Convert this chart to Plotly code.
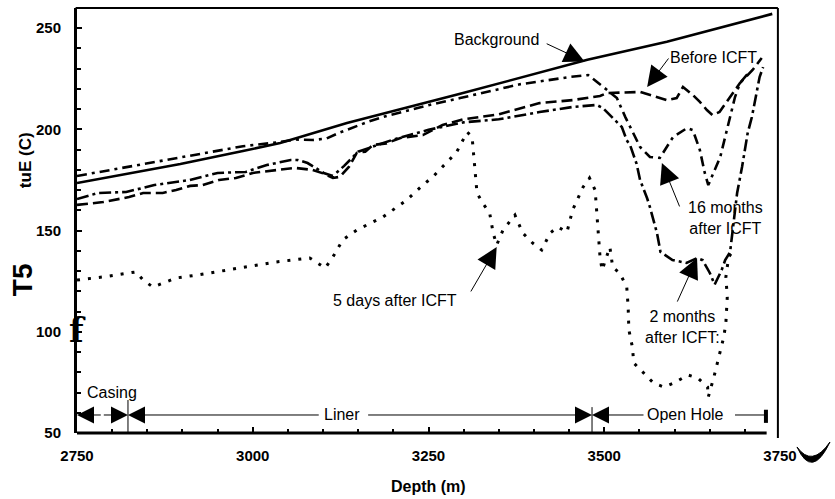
import plotly.graph_objects as go

# ---------------- data (depth in m, temperature in C) ----------------
bg_depth = [2750, 2897, 2986, 3039, 3134, 3295, 3476, 3589, 3739]
bg_temp = [173.5, 182.9, 189.3, 193.3, 203.2, 217.6, 234.4, 243.3, 257.1]

m16_depth = [2750, 2896, 2986, 3039, 3060, 3086, 3105, 3124, 3166, 3189,
             3250, 3295, 3380, 3451, 3477, 3504, 3518, 3530, 3537, 3551,
             3565, 3579, 3598, 3618, 3626, 3636, 3643, 3648, 3665, 3672,
             3679, 3686, 3693, 3705]
m16_temp = [177.0, 186.1, 191.7, 193.8, 195.0, 194.8, 195.5, 198.5, 204.0, 206.5,
            212.0, 215.5, 222.3, 225.9, 226.9, 219.5, 215.5, 206.1, 201.2, 191.3,
            186.4, 185.9, 196.3, 200.7, 199.7, 189.8, 178.5, 172.5, 186.4, 196.3,
            204.7, 216.0, 222.9, 227.9]

before_depth = [2750, 2787, 2824, 2844, 2872, 2891, 2911, 2929, 2952, 2976,
                3000, 3033, 3060, 3085, 3100, 3114, 3124, 3137, 3148, 3160,
                3171, 3190, 3210, 3242, 3270, 3300, 3350, 3408, 3455, 3494,
                3504, 3551, 3565, 3579, 3589, 3603, 3612, 3626, 3636, 3646,
                3654, 3664, 3683, 3693, 3711, 3724]
before_temp = [162.7, 164.1, 166.6, 168.6, 168.6, 170.1, 172.1, 172.5, 175.0, 176.0,
               178.5, 180.0, 181.0, 180.0, 178.3, 176.0, 176.6, 181.6, 188.4, 189.0,
               192.3, 193.1, 195.8, 197.2, 202.2, 205.0, 207.5, 213.0, 214.5, 216.5,
               218.0, 218.5, 217.0, 215.5, 214.5, 215.5, 221.0, 217.0, 213.6, 209.6,
               207.1, 208.6, 218.0, 222.9, 229.4, 235.3]

m2_depth = [2750, 2780, 2820, 2860, 2910, 2950, 2990, 3020, 3054, 3064,
            3078, 3093, 3101, 3114, 3130, 3150, 3200, 3250, 3300, 3350,
            3408, 3455, 3489, 3498, 3511, 3525, 3532, 3537, 3546, 3551,
            3561, 3565, 3575, 3580, 3597, 3617, 3632, 3640, 3650, 3657,
            3667, 3672, 3679, 3689, 3696, 3700, 3704, 3710, 3718, 3721,
            3726]
m2_temp = [165.6, 168.6, 169.1, 172.5, 175.0, 178.5, 179.0, 182.4, 184.9, 184.9,
           183.4, 180.4, 178.5, 177.0, 182.0, 189.0, 195.0, 199.8, 203.5, 205.0,
           208.6, 211.1, 212.1, 210.6, 206.1, 201.2, 194.7, 192.0, 183.0, 175.0,
           166.0, 161.6, 148.8, 139.5, 135.5, 134.0, 136.4, 135.4, 129.2, 123.3,
           130.5, 135.4, 139.4, 168.6, 181.4, 189.8, 198.2, 206.1, 219.5, 225.9,
           230.8]

d5_depth = [2750, 2787, 2834, 2844, 2858, 2872, 2891, 2920, 2948, 2977,
            3005, 3033, 3081, 3103, 3114, 3128, 3148, 3185, 3219, 3242,
            3256, 3270, 3290, 3305, 3312, 3319, 3327, 3337, 3342, 3347,
            3356, 3373, 3384, 3398, 3411, 3423, 3434, 3447, 3455, 3470,
            3479, 3487, 3490, 3494, 3497, 3508, 3512, 3522, 3532, 3534,
            3535, 3540, 3542, 3552, 3570, 3585, 3599, 3619, 3633, 3647,
            3648, 3656, 3661, 3670, 3673, 3675, 3673, 3677, 3682]
d5_temp = [125.6, 127.1, 129.6, 125.6, 122.1, 124.0, 126.6, 128.0, 129.6, 131.5,
           133.0, 134.5, 136.5, 131.5, 137.0, 145.4, 150.3, 156.7, 165.1, 172.5,
           176.5, 181.4, 188.8, 198.7, 196.3, 168.6, 163.6, 158.7, 148.8, 142.9,
           150.3, 157.7, 148.8, 143.9, 140.4, 148.8, 151.8, 149.3, 160.2, 171.6,
           176.0, 170.1, 153.8, 137.0, 130.5, 141.9, 132.0, 129.0, 122.1, 112.3,
           101.0, 92.5, 84.6, 81.1, 74.7, 72.7, 74.7, 78.7, 77.2, 72.7,
           67.8, 77.7, 84.6, 97.4, 104.4, 117.2, 127.1, 137.0, 139.4]

x_ticks = [2750, 3000, 3250, 3500, 3750]
y_ticks = [50, 100, 150, 200, 250]

# well completion intervals (m)
casing_top, liner_top, openhole_top, openhole_end = 2750, 2822.5, 3482.6, 3730
interval_row_T = 58.9

FONT = "Liberation Sans, Arial, Helvetica, sans-serif"

fig = go.Figure()
fig.add_trace(go.Scatter(x=bg_depth, y=bg_temp, mode="lines",
                         line=dict(color="black", width=2.6), name="Background"))
fig.add_trace(go.Scatter(x=m16_depth, y=m16_temp, mode="lines",
                         line=dict(color="black", width=2.6, dash="10px,5px,3px,5px"),
                         name="16 months after ICFT"))
fig.add_trace(go.Scatter(x=before_depth, y=before_temp, mode="lines",
                         line=dict(color="black", width=2.6, dash="11px,5px"),
                         name="Before ICFT"))
fig.add_trace(go.Scatter(x=m2_depth, y=m2_temp, mode="lines",
                         line=dict(color="black", width=2.6, dash="12px,4px,3px,4px"),
                         name="2 months after ICFT"))
fig.add_trace(go.Scatter(x=d5_depth, y=d5_temp, mode="lines",
                         line=dict(color="black", width=3, dash="3px,8px"),
                         name="5 days after ICFT"))

annots = []


def label(text, x, y, size=16, **kw):
    d = dict(text=text, x=x, y=y, xref="x", yref="y", showarrow=False,
             font=dict(family=FONT, size=size, color="black"),
             xanchor="center", yanchor="middle")
    d.update(kw)
    annots.append(d)


def arrow(tip_x, tip_y, tail_x, tail_y, size=4.1, head=2):
    annots.append(dict(text="", x=tip_x, y=tip_y, ax=tail_x, ay=tail_y,
                       xref="x", yref="y", axref="x", ayref="y",
                       showarrow=True, arrowhead=head, arrowsize=size,
                       arrowwidth=1, arrowcolor="black"))


# curve labels
label("Background", 3347, 244.2)
arrow(3472, 233.6, 3416, 242.7)
label("Before ICFT", 3656, 235.3)
arrow(3561, 221.0, 3593, 235.8)
label("16 months<br>after ICFT", 3672, 156.2)
arrow(3582, 183.4, 3608, 161.2)
label("5 days after ICFT", 3202, 115.7)
arrow(3347, 141.9, 3309, 119.2)
label("2 months<br>after ICFT:", 3611, 102.4)
arrow(3632, 136.5, 3603, 114.2)

# completion intervals
label("Casing", 2800, 69.8)
arrow(casing_top, interval_row_T, 2786, interval_row_T, size=3.4)
arrow(liner_top, interval_row_T, 2786, interval_row_T, size=3.4)
label("Liner", 3127, interval_row_T)
arrow(liner_top, interval_row_T, 3096, interval_row_T, size=3.4)
arrow(openhole_top, interval_row_T, 3162, interval_row_T, size=3.4)
label("Open Hole", 3615, interval_row_T)
arrow(openhole_top, interval_row_T, 3558, interval_row_T, size=3.4)

# axis titles
annots.append(dict(text="<b>Depth (m)</b>", x=0.5, y=-0.127, xref="paper", yref="paper",
                   showarrow=False, font=dict(family=FONT, size=16, color="black"),
                   xanchor="center", yanchor="middle"))
annots.append(dict(text="<b>tuE (C)</b>", x=-0.074, y=0.642, xref="paper", yref="paper",
                   showarrow=False, textangle=-90,
                   font=dict(family=FONT, size=17, color="black"),
                   xanchor="center", yanchor="middle"))
annots.append(dict(text="<b>T5</b>", x=-0.078, y=0.36, xref="paper", yref="paper",
                   showarrow=False, textangle=-90,
                   font=dict(family=FONT, size=28, color="black"),
                   xanchor="center", yanchor="middle"))
annots.append(dict(text="<b>f</b>", x=0.0, y=101, xref="paper", yref="y",
                   showarrow=False,
                   font=dict(family="DejaVu Serif, serif", size=34, color="black"),
                   xanchor="center", yanchor="middle"))

shapes = [
    # frame top and right
    dict(type="line", xref="paper", yref="paper", x0=-0.002, x1=0.997, y0=1, y1=1,
         line=dict(color="black", width=2)),
    dict(type="line", xref="paper", yref="paper", x0=0.997, x1=0.997, y0=-0.012, y1=1,
         line=dict(color="black", width=2)),
    # bottom axis line (stops before right frame)
    dict(type="line", xref="x", yref="paper", x0=2750, x1=3731, y0=0, y1=0,
         line=dict(color="black", width=3)),
    # interval dividers
    dict(type="line", xref="x", yref="y", x0=liner_top, x1=liner_top, y0=50, y1=66.3,
         line=dict(color="black", width=1)),
    dict(type="line", xref="x", yref="y", x0=openhole_top, x1=openhole_top, y0=50, y1=62.8,
         line=dict(color="black", width=1)),
    # open hole right segment and end bar
    dict(type="line", xref="x", yref="y", x0=3686, x1=openhole_end, y0=interval_row_T,
         y1=interval_row_T, line=dict(color="black", width=1)),
    dict(type="line", xref="x", yref="y", x0=openhole_end, x1=openhole_end, y0=55.0, y1=61.5,
         line=dict(color="black", width=4)),
    # crescent mark at bottom-right
    dict(type="path", xref="paper", yref="paper",
         path="M 1.0242,-0.0329 Q 1.0455,-0.1106 1.0711,-0.0212 Q 1.0455,-0.0824 1.0242,-0.0329 Z",
         fillcolor="black", line=dict(color="black", width=1)),
]

fig.update_layout(
    width=835, height=499,
    margin=dict(l=77, r=55, t=8, b=66),
    plot_bgcolor="white", paper_bgcolor="white",
    showlegend=False,
    font=dict(family=FONT, color="black"),
    annotations=annots,
    shapes=shapes,
    xaxis=dict(range=[2750, 3750], tickmode="array", tickvals=x_ticks,
               ticktext=[str(v) for v in x_ticks],
               ticks="inside", ticklen=6, tickwidth=2, tickcolor="black",
               showline=False, showgrid=False, zeroline=False,
               tickfont=dict(family=FONT, size=15, color="black", weight="bold"),
               ticklabelstandoff=12,
               minor=dict(tickmode="linear", tick0=2750, dtick=50, ticks="inside",
                          ticklen=4, tickwidth=1.5, tickcolor="black", showgrid=False)),
    yaxis=dict(range=[50, 260], tickmode="array", tickvals=y_ticks,
               ticktext=[str(v) for v in y_ticks],
               ticks="inside", ticklen=5, tickwidth=2, tickcolor="black",
               showline=True, linewidth=3, linecolor="black",
               showgrid=False, zeroline=False,
               tickfont=dict(family=FONT, size=15, color="black", weight="bold"),
               ticklabelstandoff=10,
               minor=dict(tickmode="linear", tick0=50, dtick=10, ticks="inside",
                          ticklen=4, tickwidth=1.5, tickcolor="black", showgrid=False)),
)

fig.write_html("out.html")
